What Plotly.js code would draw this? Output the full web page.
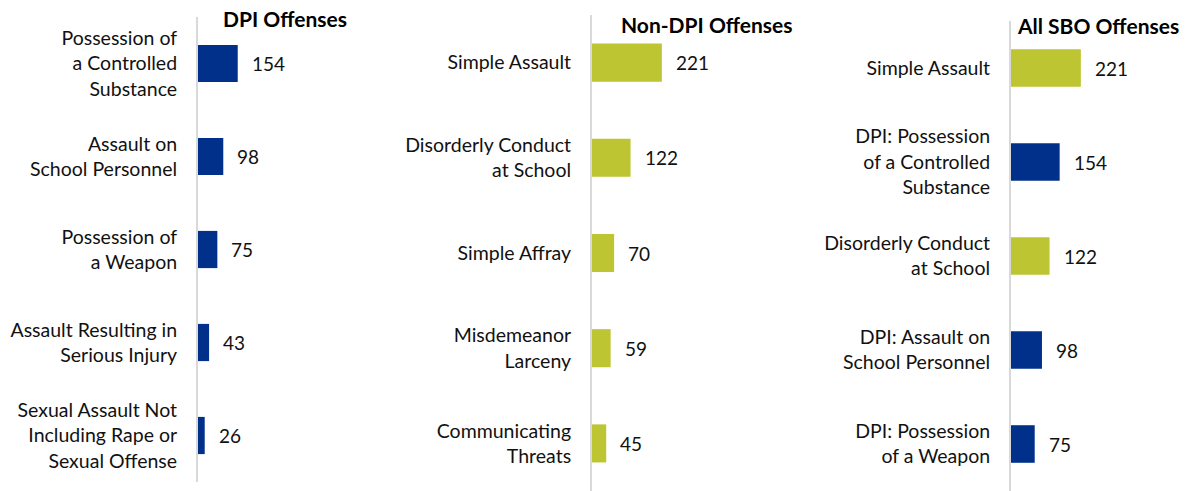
<!DOCTYPE html>
<html>
<head>
<meta charset="utf-8">
<script src="https://cdn.plot.ly/plotly-3.0.1.min.js"></script>
<style>html,body{margin:0;padding:0;background:#fff}#chart{width:1186px;height:491px}</style>
</head>
<body>
<div id="chart"></div>
<script>
// Panel 1: DPI Offenses
const dpiLabels = ["Possession of<br>a Controlled<br>Substance", "Assault on<br>School Personnel", "Possession of<br>a Weapon", "Assault Resulting in<br>Serious Injury", "Sexual Assault Not<br>Including Rape or<br>Sexual Offense"];
const dpiValues = [154, 98, 75, 43, 26];

// Panel 2: Non-DPI Offenses
const nonDpiLabels = ["Simple Assault", "Disorderly Conduct<br>at School", "Simple Affray", "Misdemeanor<br>Larceny", "Communicating<br>Threats"];
const nonDpiValues = [221, 122, 70, 59, 45];

// Panel 3: All SBO Offenses
const allLabels = ["Simple Assault", "DPI: Possession<br>of a Controlled<br>Substance", "Disorderly Conduct<br>at School", "DPI: Assault on<br>School Personnel", "DPI: Possession<br>of a Weapon"];
const allValues = [221, 154, 122, 98, 75];
const allIsDpi = [false, true, false, true, true];

const panelTitles = ["DPI Offenses", "Non-DPI Offenses", "All SBO Offenses"];

const NAVY = "#00308a";
const GREEN = "#bdc632";
const FONT = "Lato, 'Open Sans', sans-serif";
const W = 1186, H = 491;

function bar(labels, values, colors, xa, ya) {
  return {
    type: "bar", orientation: "h", y: labels, x: values,
    marker: {color: colors}, width: 0.4,
    xaxis: xa, yaxis: ya, hoverinfo: "x+y"
  };
}

const data = [
  bar(dpiLabels, dpiValues, dpiValues.map(() => NAVY), "x", "y"),
  bar(nonDpiLabels, nonDpiValues, nonDpiValues.map(() => GREEN), "x2", "y2"),
  bar(allLabels, allValues, allIsDpi.map(d => d ? NAVY : GREEN), "x3", "y3")
];

function yaxis(labels, top, bottom, anchor) {
  return {
    domain: [(H - bottom) / H, (H - top) / H],
    anchor: anchor,
    type: "category", categoryorder: "array", categoryarray: labels,
    autorange: false, range: [labels.length - 0.5, -0.5],
    showline: true, linecolor: "#d9d9d9", linewidth: 2,
    showgrid: false, zeroline: false, ticks: "", ticklabelstandoff: 15,
    tickfont: {family: FONT, size: 19.5, color: "#111"}, fixedrange: true
  };
}
function xaxis(left, right, pxPerUnit, anchor) {
  return {
    domain: [left / W, right / W], anchor: anchor,
    range: [0, (right - left) / pxPerUnit], autorange: false,
    visible: false, fixedrange: true
  };
}

const annotations = [];
function valueLabels(labels, values, xref, yref) {
  labels.forEach((l, i) => annotations.push({
    x: values[i], y: l, xref: xref, yref: yref, text: String(values[i]),
    showarrow: false, xanchor: "left", xshift: 12,
    font: {family: FONT, size: 19, color: "#111"}
  }));
}
valueLabels(dpiLabels, dpiValues, "x", "y");
valueLabels(nonDpiLabels, nonDpiValues, "x2", "y2");
valueLabels(allLabels, allValues, "x3", "y3");

const titlePos = [[221, 18], [619, 24], [1015, 25]];
panelTitles.forEach((t, i) => annotations.push({
  x: titlePos[i][0] / W, y: (H - titlePos[i][1]) / H, xref: "paper", yref: "paper",
  text: "<b>" + t + "</b>", showarrow: false, xanchor: "left", yanchor: "middle",
  font: {family: FONT, size: 21, color: "#000"}
}));

const layout = {
  width: W, height: H, margin: {l: 0, r: 0, t: 0, b: 0},
  paper_bgcolor: "#fff", plot_bgcolor: "rgba(0,0,0,0)",
  showlegend: false, bargap: 0.6,
  xaxis: xaxis(198, 390, 0.258, "y"),
  yaxis: yaxis(dpiLabels, 17, 482, "x"),
  xaxis2: xaxis(592, 800, 0.316, "y2"),
  yaxis2: yaxis(nonDpiLabels, 15, 491, "x2"),
  xaxis3: xaxis(1011, 1186, 0.316, "y3"),
  yaxis3: yaxis(allLabels, 21, 491, "x3"),
  annotations: annotations,
  font: {family: FONT}
};

Plotly.newPlot("chart", data, layout, {displayModeBar: false, staticPlot: true});
</script>
</body>
</html>
